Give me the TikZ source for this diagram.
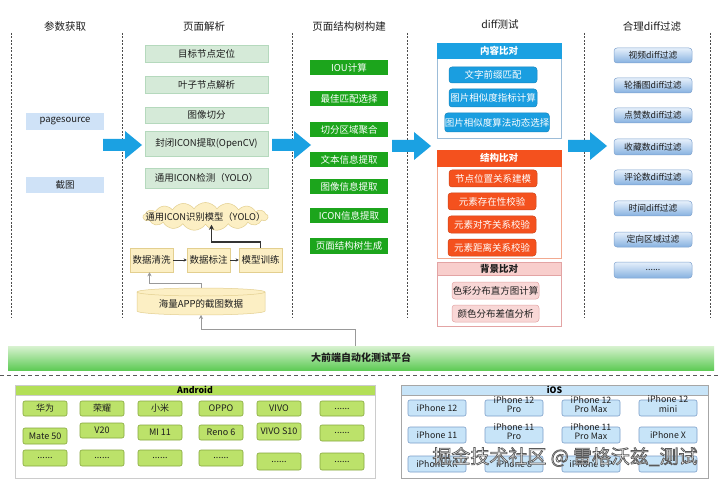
\documentclass[tikz,border=0pt]{standalone}
\usepackage{fontspec}
\setmainfont{Noto Sans CJK SC}
\usetikzlibrary{shapes.symbols,arrows.meta}
\definecolor{txt}{HTML}{1E1E1E}
\definecolor{cOneFill}{HTML}{CFE2F7}
\definecolor{cTwoFill}{HTML}{D5EAD8}
\definecolor{cTwoDraw}{HTML}{B5D9BD}
\definecolor{cThreeFill}{HTML}{1CA51C}
\definecolor{arrowblue}{HTML}{1BA1E2}
\definecolor{contHead}{HTML}{1BA1E2}
\definecolor{contBox}{HTML}{1A9EE0}
\definecolor{contOuter}{HTML}{9CBCD8}
\definecolor{strHead}{HTML}{F4511E}
\definecolor{strBox}{HTML}{F4511E}
\definecolor{strOuter}{HTML}{F2A990}
\definecolor{bgHead}{HTML}{F8CECC}
\definecolor{bgBox}{HTML}{F8D7D6}
\definecolor{bgDraw}{HTML}{E3A4A4}
\definecolor{fiveTop}{HTML}{E6F0FB}
\definecolor{fiveBot}{HTML}{86B1E0}
\definecolor{fiveDraw}{HTML}{7FA3CF}
\definecolor{platTop}{HTML}{D8F2D0}
\definecolor{platBot}{HTML}{5FCB56}
\definecolor{andHead}{HTML}{B3DF57}
\definecolor{andFill}{HTML}{BCE26A}
\definecolor{andDraw}{HTML}{86A73D}
\definecolor{iosHead}{HTML}{C7E4F8}
\definecolor{iosFill}{HTML}{C7E4F8}
\definecolor{iosDraw}{HTML}{7C9EC9}
\definecolor{yelFill}{HTML}{FCEFC4}
\definecolor{yelDraw}{HTML}{E3CF8F}
\definecolor{linkgray}{HTML}{999999}
\newcommand\mkbox[7]{\node[#2,minimum width={(#5)-(#3)},minimum height={(#6)-(#4)}] (#1) at ({((#3)+(#5))/2},{((#4)+(#6))/2}) {#7};}
\newcommand\bigarrow[3]{\fill[arrowblue] (#2,#3-6) -- (#2+22,#3-6) -- (#2+22,#3-14) -- (#2+39,#3) -- (#2+22,#3+14) -- (#2+22,#3+6) -- (#2,#3+6) -- cycle;}
\newcommand\twol[2]{\smash{\begin{tabular}{@{}c@{}}#1\\#2\end{tabular}}}
\newcommand\outlinetext[1]{\special{pdf:literal 2 Tr 0.35 0.35 0.35 RG 0.7 w}#1\special{pdf:literal 0 Tr}}
\begin{document}
\begin{tikzpicture}[x=1pt,y=-1pt,
  base/.style={inner sep=0pt,align=center,text=txt,font=\fontsize{9.5}{11}\selectfont},
  heading/.style={inner sep=0pt,text=txt,font=\fontsize{10.5}{12}\selectfont},
  cone/.style={base,fill=cOneFill},
  ctwo/.style={base,fill=cTwoFill,draw=cTwoDraw,line width=0.6pt},
  cthree/.style={base,fill=cThreeFill,text=white},
  yel/.style={base,fill=yelFill,draw=yelDraw,line width=0.5pt},
  outer/.style={inner sep=0pt,fill=white,line width=0.6pt},
  ghead/.style={inner sep=0pt,font=\bfseries\fontsize{9.5}{10}\selectfont,line width=0.6pt},
  contb/.style={base,fill=contBox,draw=contBox!85!black,rounded corners=3pt,text=white,line width=0.5pt},
  strb/.style={base,fill=strBox,draw=strBox!85!black,rounded corners=3pt,text=white,line width=0.5pt},
  bgb/.style={base,fill=bgBox,draw=bgDraw,rounded corners=3pt,line width=0.5pt},
  cfive/.style={base,top color=fiveTop,bottom color=fiveBot,draw=fiveDraw,rounded corners=3pt,line width=0.5pt,font=\fontsize{8.8}{10}\selectfont},
  andb/.style={base,fill=andFill,draw=andDraw,rounded corners=2pt,line width=0.6pt,font=\fontsize{9}{10}\selectfont},
  iosb/.style={base,fill=iosFill,draw=iosDraw,rounded corners=2pt,line width=0.6pt,font=\fontsize{8.8}{9.5}\selectfont},
  vsep/.style={line width=1pt,black!70,dash pattern=on 2pt off 1.5pt},
  hsep/.style={line width=1pt,black!65,dash pattern=on 4pt off 3pt},
  graylink/.style={linkgray,line width=0.8pt,-{Stealth[length=4pt,width=4pt]}},
  darklink/.style={black!80,line width=1.6pt,-{Stealth[length=5pt,width=5pt]}},
  smalllink/.style={black!80,line width=0.6pt,-{Stealth[length=3pt,width=3pt]}}
]
\useasboundingbox (0,0) rectangle (720,481);
\fill[white] (0,0) rectangle (720,481);

% separators
\foreach \xx in {11,122,292,407,584,710} \draw[vsep] (\xx,33) -- (\xx,318);
\draw[hsep] (0,375) -- (720,375);

% headings
\node[heading] (h1) at (65,27) {参数获取};
\node[heading] (h2) at (204,27) {页面解析};
\node[heading] (h3) at (349,27) {页面结构树构建};
\node[heading] (h4) at (500,25) {diff测试};
\node[heading] (h5) at (652,27) {合理diff过滤};

% column 1
\mkbox{ps}{cone}{26}{113}{104}{130}{pagesource}
\mkbox{shot}{cone}{26}{177}{104}{193}{截图}

% column 2
\mkbox{a1}{ctwo}{145}{45}{268}{62}{目标节点定位}
\mkbox{a2}{ctwo}{145}{76}{268}{93}{叶子节点解析}
\mkbox{a3}{ctwo}{145}{107}{268}{123}{图像切分}
\mkbox{a4}{ctwo}{145}{131}{268}{156}{封闭ICON提取(OpenCV)}
\mkbox{a5}{ctwo}{145}{168}{268}{188}{通用ICON检测（YOLO）}
\node[cloud,cloud puffs=17,cloud puff arc=115,aspect=4.6,draw=yelDraw,fill=yelFill,line width=0.5pt,
  minimum width=125,minimum height=28,inner sep=0pt,text=txt,font=\fontsize{9.3}{10}\selectfont]
  (cloud) at (205.5,216.5) {\makebox[0pt]{通用ICON识别模型（YOLO）}};
\mkbox{clean}{yel}{130}{248}{173}{272}{数据清洗}
\mkbox{label}{yel}{187}{248}{230}{272}{数据标注}
\mkbox{train}{yel}{239}{248}{282}{272}{模型训练}
% cylinder
\filldraw[fill=yelFill,draw=yelDraw,line width=0.5pt]
  (137,292) -- (137,311) arc[start angle=180,end angle=360,x radius=64pt,y radius=4pt]
  -- (265,292) arc[start angle=0,end angle=180,x radius=64pt,y radius=4pt] -- cycle;
\draw[yelDraw,line width=0.5pt] (137,292) arc[start angle=180,end angle=360,x radius=64pt,y radius=4pt];
\node[base] (cyl) at (201,304) {海量APP的截图数据};
\coordinate (cyltop) at (201,288);
\coordinate (cylbot) at (201,315);

\draw[smalllink] (clean.east) -- (label.west);
\draw[smalllink] (label.east) -- (train.west);
\draw[darklink] (train.north) -- ++(0,-6) -| ([xshift=6pt]cloud.south);
\draw[graylink] (cyltop) -- ++(0,-5) -| ([xshift=-2pt]clean.south);

% column 3
\mkbox{b1}{cthree}{310}{60}{388}{75}{IOU计算}
\mkbox{b2}{cthree}{310}{91}{388}{106}{最佳匹配选择}
\mkbox{b3}{cthree}{310}{122}{388}{137}{切分区域聚合}
\mkbox{b4}{cthree}{310}{152}{388}{167}{文本信息提取}
\mkbox{b5}{cthree}{310}{179}{388}{194}{图像信息提取}
\mkbox{b6}{cthree}{310}{208}{388}{223}{ICON信息提取}
\mkbox{b7}{cthree}{310}{238}{388}{254}{页面结构树生成}

% column 4
\mkbox{g1}{outer,draw=contOuter}{437}{43}{561}{138}{}
\mkbox{g1h}{ghead,fill=contHead,draw=contHead,text=white}{437}{43}{561}{58}{内容比对}
\mkbox{d1}{contb}{449}{67}{537}{83}{文字前缀匹配}
\mkbox{d2}{contb}{449}{89}{537}{107}{图片相似度指标计算}
\mkbox{d3}{contb}{445}{113}{549}{132}{图片相似度算法动态选择}
\mkbox{g2}{outer,draw=strOuter}{437}{150}{561}{258}{}
\mkbox{g2h}{ghead,fill=strHead,draw=strHead,text=white}{437}{150}{561}{166}{结构比对}
\mkbox{e1}{strb}{449}{170}{537}{187}{节点位置关系建模}
\mkbox{e2}{strb}{448}{193}{536}{210}{元素存在性校验}
\mkbox{e3}{strb}{448}{216}{536}{233}{元素对齐关系校验}
\mkbox{e4}{strb}{448}{239}{536}{256}{元素距离关系校验}
\mkbox{g3}{outer,draw=bgDraw}{437}{262}{561}{326}{}
\mkbox{g3h}{ghead,fill=bgHead,draw=bgDraw,text=txt}{437}{262}{561}{275}{背景比对}
\mkbox{f1}{bgb}{452}{282}{539}{299}{色彩分布直方图计算}
\mkbox{f2}{bgb}{452}{305}{539}{322}{颜色分布差值分析}

% column 5
\mkbox{k1}{cfive}{614}{48}{692}{63}{视频diff过滤}
\mkbox{k2}{cfive}{614}{78}{692}{93}{轮播图diff过滤}
\mkbox{k3}{cfive}{614}{108}{692}{123}{点赞数diff过滤}
\mkbox{k4}{cfive}{614}{139}{692}{155}{收藏数diff过滤}
\mkbox{k5}{cfive}{614}{170}{692}{185}{评论数diff过滤}
\mkbox{k6}{cfive}{614}{201}{692}{216}{时间diff过滤}
\mkbox{k7}{cfive}{614}{232}{692}{247}{定向区域过滤}
\mkbox{k8}{cfive}{614}{262}{692}{278}{......}

% big arrows
\bigarrow{ar1}{103}{145}
\bigarrow{ar2}{272}{145}
\bigarrow{ar3}{392}{146}
\bigarrow{ar4}{568}{146}

% platform
\mkbox{plat}{inner sep=0pt,top color=platTop,bottom color=platBot,font=\bfseries\fontsize{10}{12}\selectfont,text=txt}{8}{346}{714}{370}{大前端自动化测试平台}
\draw[graylink] ([xshift=-6pt]plat.north) -- ++(0,-16) -| (cylbot);

% Android
\mkbox{andg}{outer,draw=black!20}{15}{385}{375}{478}{}
\mkbox{andh}{ghead,fill=andHead,draw=black!20,font=\bfseries\fontsize{8.8}{10}\selectfont}{15}{385}{375}{395}{Android}
\mkbox{n11}{andb}{23}{401}{67}{416}{华为}
\mkbox{n12}{andb}{80}{401}{124}{416}{荣耀}
\mkbox{n13}{andb}{138}{401}{182}{416}{小米}
\mkbox{n14}{andb}{199}{401}{243}{416}{OPPO}
\mkbox{n15}{andb}{257}{401}{301}{416}{VIVO}
\mkbox{n16}{andb}{320}{401}{364}{416}{......}
\mkbox{n21}{andb}{23}{428}{67}{444}{Mate 50}
\mkbox{n22}{andb}{80}{423}{124}{438}{V20}
\mkbox{n23}{andb}{138}{425}{182}{440}{MI 11}
\mkbox{n24}{andb}{199}{425}{243}{440}{Reno 6}
\mkbox{n25}{andb}{257}{423}{301}{440}{VIVO S10}
\mkbox{n26}{andb}{320}{425}{364}{441}{......}
\mkbox{n31}{andb}{23}{450}{67}{466}{......}
\mkbox{n32}{andb}{80}{450}{124}{466}{......}
\mkbox{n33}{andb}{138}{450}{182}{466}{......}
\mkbox{n34}{andb}{199}{450}{243}{466}{......}
\mkbox{n35}{andb}{257}{453}{301}{470}{......}
\mkbox{n36}{andb}{320}{453}{364}{470}{......}

% iOS
\mkbox{iosg}{outer,draw=black!35}{401}{385}{708}{478}{}
\mkbox{iosh}{ghead,fill=iosHead,draw=black!35,font=\bfseries\fontsize{8.8}{10}\selectfont}{401}{385}{708}{395}{iOS}
\mkbox{i11}{iosb}{408}{400}{466}{416}{iPhone 12}
\mkbox{i12}{iosb}{485}{400}{543}{416}{\twol{iPhone 12}{Pro}}
\mkbox{i13}{iosb}{562}{400}{620}{416}{\twol{iPhone 12}{Pro Max}}
\mkbox{i14}{iosb}{639}{400}{697}{416}{\twol{iPhone 12}{mini}}
\mkbox{i21}{iosb}{408}{427}{466}{443}{iPhone 11}
\mkbox{i22}{iosb}{485}{427}{543}{443}{\twol{iPhone 11}{Pro}}
\mkbox{i23}{iosb}{562}{427}{620}{443}{\twol{iPhone 11}{Pro Max}}
\mkbox{i24}{iosb}{639}{427}{697}{443}{iPhone X}
\mkbox{i31}{iosb}{408}{456}{466}{472}{iPhone XR}
\mkbox{i32}{iosb}{485}{456}{543}{472}{iPhone 8}
\mkbox{i33}{iosb}{562}{456}{620}{472}{iPhone 8 P}
\mkbox{i34}{iosb}{639}{456}{697}{472}{......}

% watermark
\node[inner sep=0pt,text=white,font=\fontsize{19}{22}\selectfont] (wm) at (565,457) {\outlinetext{掘金技术社区 @ 雷格沃兹\_测试}};
\end{tikzpicture}
\end{document}
